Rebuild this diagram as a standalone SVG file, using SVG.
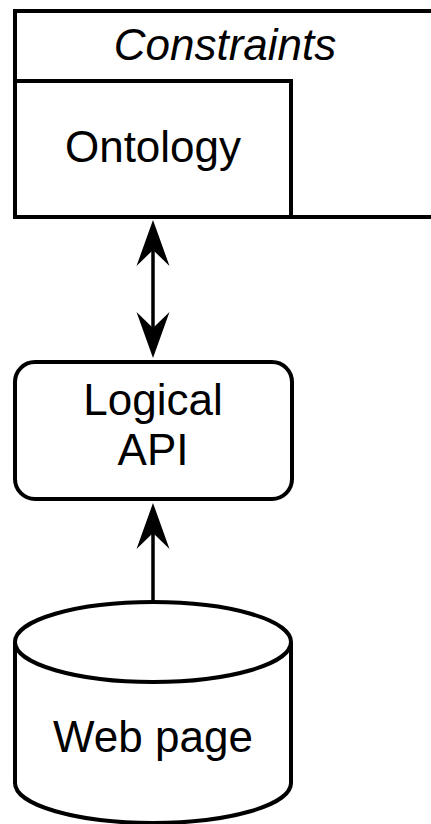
<svg xmlns="http://www.w3.org/2000/svg" width="431" height="824" viewBox="0 0 431 824">
<style>
.box{fill:#fff;stroke:#000;stroke-width:4}
.lbl{font-family:"Liberation Sans",Arial,sans-serif;font-size:44px;fill:#000;text-anchor:middle}
.conn{stroke:#000;stroke-width:3.5;fill:none}
</style>
<defs>
<path id="ah" d="M0,0 L16.5,46 L0,30 L-16.5,46 Z" fill="#000"/>
</defs>
<rect x="0" y="0" width="431" height="824" fill="#fff"/>
<g id="constraints">
<rect class="box" x="15" y="11" width="440" height="206"/>
<text class="lbl" x="225" y="60" font-style="italic">Constraints</text>
</g>
<g id="ontology">
<rect class="box" x="15" y="81" width="276" height="136"/>
<text class="lbl" x="153" y="162">Ontology</text>
</g>
<g id="logical-api">
<rect class="box" x="15" y="362" width="277" height="137" rx="20" ry="20"/>
<text class="lbl" x="153" y="415">Logical</text>
<text class="lbl" x="153" y="465">API</text>
</g>
<g id="web-page">
<path class="box" d="M15,642 A138,40 0 0 1 291,642 V783 A138,40 0 0 1 15,783 Z"/>
<path class="box" d="M15,642 A138,40 0 0 0 291,642" fill="none"/>
<text class="lbl" x="153" y="752">Web page</text>
</g>
<g id="connectors">
<line class="conn" x1="153" y1="240" x2="153" y2="340"/>
<use href="#ah" transform="translate(153,220)"/>
<use href="#ah" transform="translate(153,358) rotate(180)"/>
<line class="conn" x1="153" y1="525" x2="153" y2="601"/>
<use href="#ah" transform="translate(153,503)"/>
</g>
</svg>
